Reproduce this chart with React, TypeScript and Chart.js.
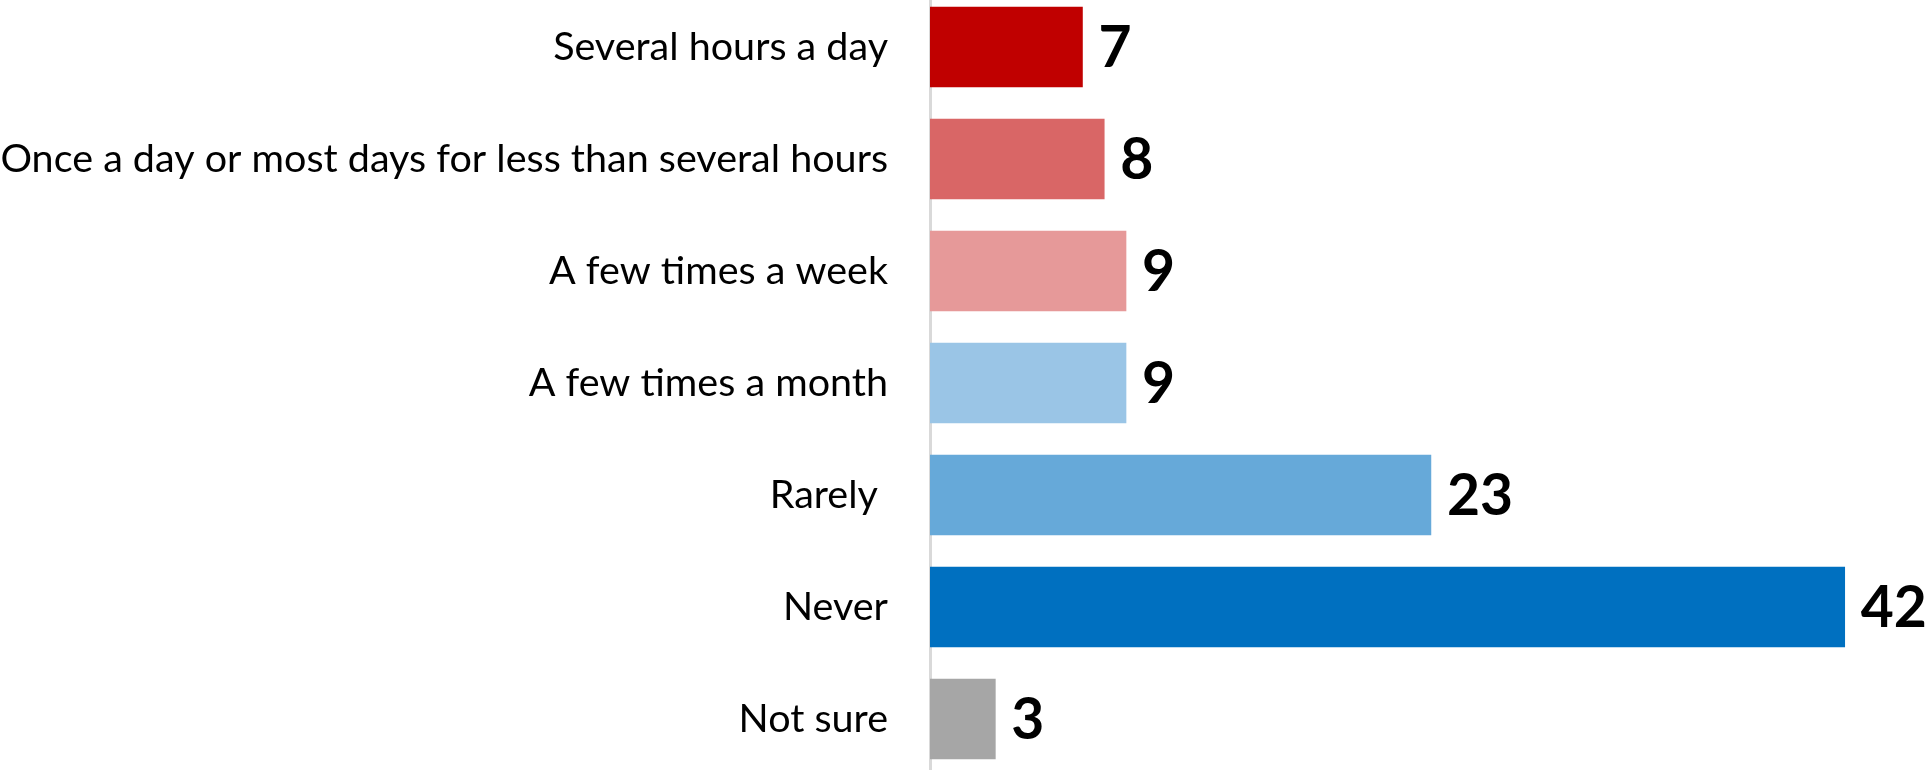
import React, { useEffect, useRef } from "react";
import { Chart, registerables } from "chart.js";

Chart.register(...registerables);

const categories = [
  "Several hours a day",
  "Once a day or most days for less than several hours",
  "A few times a week",
  "A few times a month",
  "Rarely ",
  "Never",
  "Not sure",
];
const values = [7, 8, 9, 9, 23, 42, 3];
const barColors = ["#C00000", "#D96666", "#E69999", "#9AC5E6", "#66A9D9", "#0070C0", "#A6A6A6"];

const FONT = "Lato, 'Open Sans', 'DejaVu Sans', sans-serif";

const valueLabelPlugin = {
  id: "valueLabels",
  afterDatasetsDraw(chart: any) {
    const { ctx } = chart;
    const meta = chart.getDatasetMeta(0);
    ctx.save();
    ctx.font = `bold 57px ${FONT}`;
    ctx.fillStyle = "#000000";
    ctx.textAlign = "left";
    ctx.textBaseline = "middle";
    meta.data.forEach((bar: any, i: number) => {
      ctx.fillText(String(values[i]), bar.x + 16, bar.y + 2);
    });
    ctx.restore();
  },
};

export default function App() {
  const ref = useRef<HTMLCanvasElement | null>(null);
  useEffect(() => {
    if (!ref.current) return;
    const chart = new Chart(ref.current, {
      type: "bar",
      data: {
        labels: categories,
        datasets: [
          {
            data: values,
            backgroundColor: barColors,
            borderWidth: 0,
            barThickness: 80,
          },
        ],
      },
      options: {
        indexAxis: "y",
        animation: false,
        responsive: false,
        maintainAspectRatio: false,
        layout: { padding: 0 },
        plugins: {
          legend: { display: false },
          tooltip: { enabled: false },
        },
        scales: {
          x: {
            display: false,
            min: 0,
            max: 45.87,
          },
          y: {
            grid: { display: false, drawTicks: false },
            border: { display: true, color: "#D9D9D9", width: 3 },
            ticks: {
              color: "#000000",
              padding: 42,
              font: { family: FONT, size: 39.5 },
            },
            afterFit: (scale: any) => {
              scale.width = 930;
              scale.paddingTop = 0;
              scale.paddingBottom = 0;
            },
          },
        },
      },
      plugins: [valueLabelPlugin],
    });
    return () => chart.destroy();
  }, []);
  return (
    <div style={{ position: "fixed", top: -9, left: 0, width: 1929, height: 784, background: "#fff" }}>
      <canvas ref={ref} width={1929} height={784} style={{ width: 1929, height: 784, display: "block" }} />
    </div>
  );
}
